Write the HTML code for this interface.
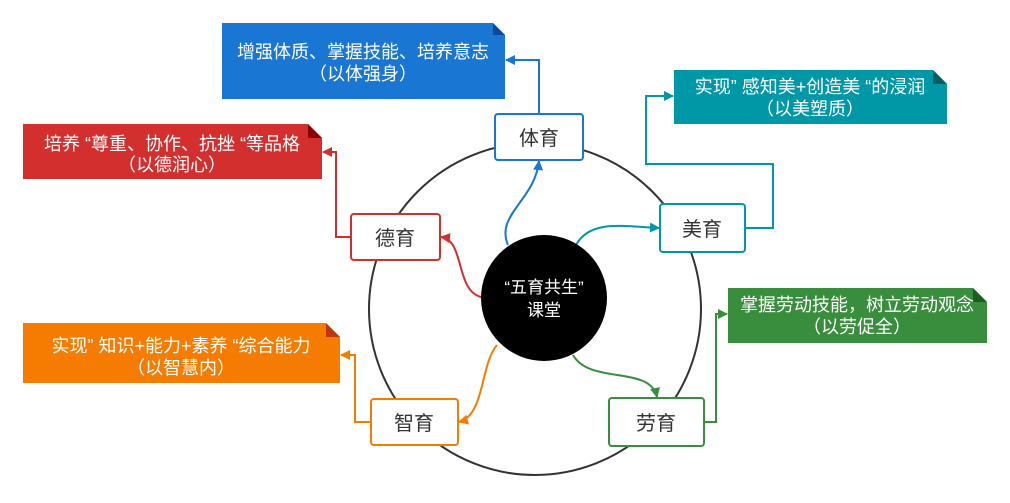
<!DOCTYPE html>
<html><head><meta charset="utf-8"><style>
body{margin:0;background:#fff;}
svg text{font-family:"Liberation Sans","Noto Sans CJK SC",sans-serif;}
</style></head><body>
<svg width="1010" height="498" viewBox="0 0 1010 498" xmlns="http://www.w3.org/2000/svg">
<defs>
<marker id="ab" viewBox="0 0 10 10" refX="9" refY="5" markerWidth="11" markerHeight="10" orient="auto" markerUnits="userSpaceOnUse"><path d="M0,0L10,5L0,10z" fill="#1976d2"/></marker>
<marker id="ar" viewBox="0 0 10 10" refX="9" refY="5" markerWidth="11" markerHeight="10" orient="auto" markerUnits="userSpaceOnUse"><path d="M0,0L10,5L0,10z" fill="#d32f2f"/></marker>
<marker id="at" viewBox="0 0 10 10" refX="9" refY="5" markerWidth="11" markerHeight="10" orient="auto" markerUnits="userSpaceOnUse"><path d="M0,0L10,5L0,10z" fill="#0097a7"/></marker>
<marker id="ag" viewBox="0 0 10 10" refX="9" refY="5" markerWidth="11" markerHeight="10" orient="auto" markerUnits="userSpaceOnUse"><path d="M0,0L10,5L0,10z" fill="#388e3c"/></marker>
<marker id="ao" viewBox="0 0 10 10" refX="9" refY="5" markerWidth="11" markerHeight="10" orient="auto" markerUnits="userSpaceOnUse"><path d="M0,0L10,5L0,10z" fill="#f57c00"/></marker>
</defs>
<circle cx="535" cy="309" r="166" fill="none" stroke="#333" stroke-width="2"/>

<path d="M222 23H493L505 35V99H222z" fill="#1976d2"/><path d="M493 23L505 35H493z" fill="#0d47a1"/>
<text x="363" y="58" fill="#fff" font-size="18" text-anchor="middle">增强体质、掌握技能、培养意志</text>
<text x="363" y="80" fill="#fff" font-size="18" text-anchor="middle">（以体强身）</text>

<path d="M23 124H308L322 138V179H23z" fill="#d32f2f"/><path d="M308 124L322 138H308z" fill="#8b0000"/>
<text x="172" y="150" fill="#fff" font-size="18" text-anchor="middle">培养 “尊重、协作、抗挫 “等品格</text>
<text x="172" y="171" fill="#fff" font-size="18" text-anchor="middle">（以德润心）</text>

<path d="M674 70H933L947 84V124H674z" fill="#0097a7"/><path d="M933 70L947 84H933z" fill="#006064"/>
<text x="810" y="93" fill="#fff" font-size="18" text-anchor="middle">实现” 感知美+创造美 “的浸润</text>
<text x="810" y="115" fill="#fff" font-size="18" text-anchor="middle">（以美塑质）</text>

<path d="M728 288H973L987 302V343H728z" fill="#388e3c"/><path d="M973 288L987 302H973z" fill="#1b5e20"/>
<text x="857" y="311" fill="#fff" font-size="18" text-anchor="middle">掌握劳动技能，树立劳动观念</text>
<text x="857" y="333" fill="#fff" font-size="18" text-anchor="middle">（以劳促全）</text>

<path d="M23 323H326L340 337V383H23z" fill="#f57c00"/><path d="M326 323L340 337H326z" fill="#bf360c"/>
<text x="181" y="352" fill="#fff" font-size="18" text-anchor="middle">实现” 知识+能力+素养 “综合能力</text>
<text x="181" y="374" fill="#fff" font-size="18" text-anchor="middle">（以智慧内）</text>

<path d="M539 114V60H506" fill="none" stroke="#1976d2" stroke-width="2" marker-end="url(#ab)"/>
<path d="M351 237H336V152H323" fill="none" stroke="#d32f2f" stroke-width="2" marker-end="url(#ar)"/>
<path d="M745 228H773V164H646V96H673" fill="none" stroke="#0097a7" stroke-width="2" marker-end="url(#at)"/>
<path d="M704 422H716V314H727" fill="none" stroke="#388e3c" stroke-width="2" marker-end="url(#ag)"/>
<path d="M371 422H355V355H341" fill="none" stroke="#f57c00" stroke-width="2" marker-end="url(#ao)"/>

<path d="M508 245C495 215 535 200 539 161" fill="none" stroke="#1976d2" stroke-width="2" marker-end="url(#ab)"/>
<path d="M576 245C590 220 620 226 659 228" fill="none" stroke="#0097a7" stroke-width="2" marker-end="url(#at)"/>
<path d="M481 297C455 290 465 240 441 237" fill="none" stroke="#d32f2f" stroke-width="2" marker-end="url(#ar)"/>
<path d="M497 345C480 365 485 415 459 422" fill="none" stroke="#f57c00" stroke-width="2" marker-end="url(#ao)"/>
<path d="M573 355C590 385 650 365 657 397" fill="none" stroke="#388e3c" stroke-width="2" marker-end="url(#ag)"/>

<circle cx="544" cy="298" r="63" fill="#000"/>
<text x="544" y="293" fill="#fff" font-size="17" text-anchor="middle">“五育共生”</text>
<text x="544" y="316" fill="#fff" font-size="17" text-anchor="middle">课堂</text>

<rect x="495" y="114" width="88" height="46" rx="3" fill="#fff" stroke="#1976d2" stroke-width="2"/>
<text x="539" y="145" fill="#333" font-size="20" text-anchor="middle">体育</text>
<rect x="660" y="204" width="85" height="48" rx="3" fill="#fff" stroke="#0097a7" stroke-width="2"/>
<text x="702" y="236" fill="#333" font-size="20" text-anchor="middle">美育</text>
<rect x="351" y="214" width="89" height="46" rx="3" fill="#fff" stroke="#d32f2f" stroke-width="2"/>
<text x="395" y="245" fill="#333" font-size="20" text-anchor="middle">德育</text>
<rect x="371" y="399" width="87" height="46" rx="3" fill="#fff" stroke="#f57c00" stroke-width="2"/>
<text x="414" y="430" fill="#333" font-size="20" text-anchor="middle">智育</text>
<rect x="609" y="398" width="95" height="48" rx="3" fill="#fff" stroke="#388e3c" stroke-width="2"/>
<text x="656" y="430" fill="#333" font-size="20" text-anchor="middle">劳育</text>
</svg>
</body></html>
